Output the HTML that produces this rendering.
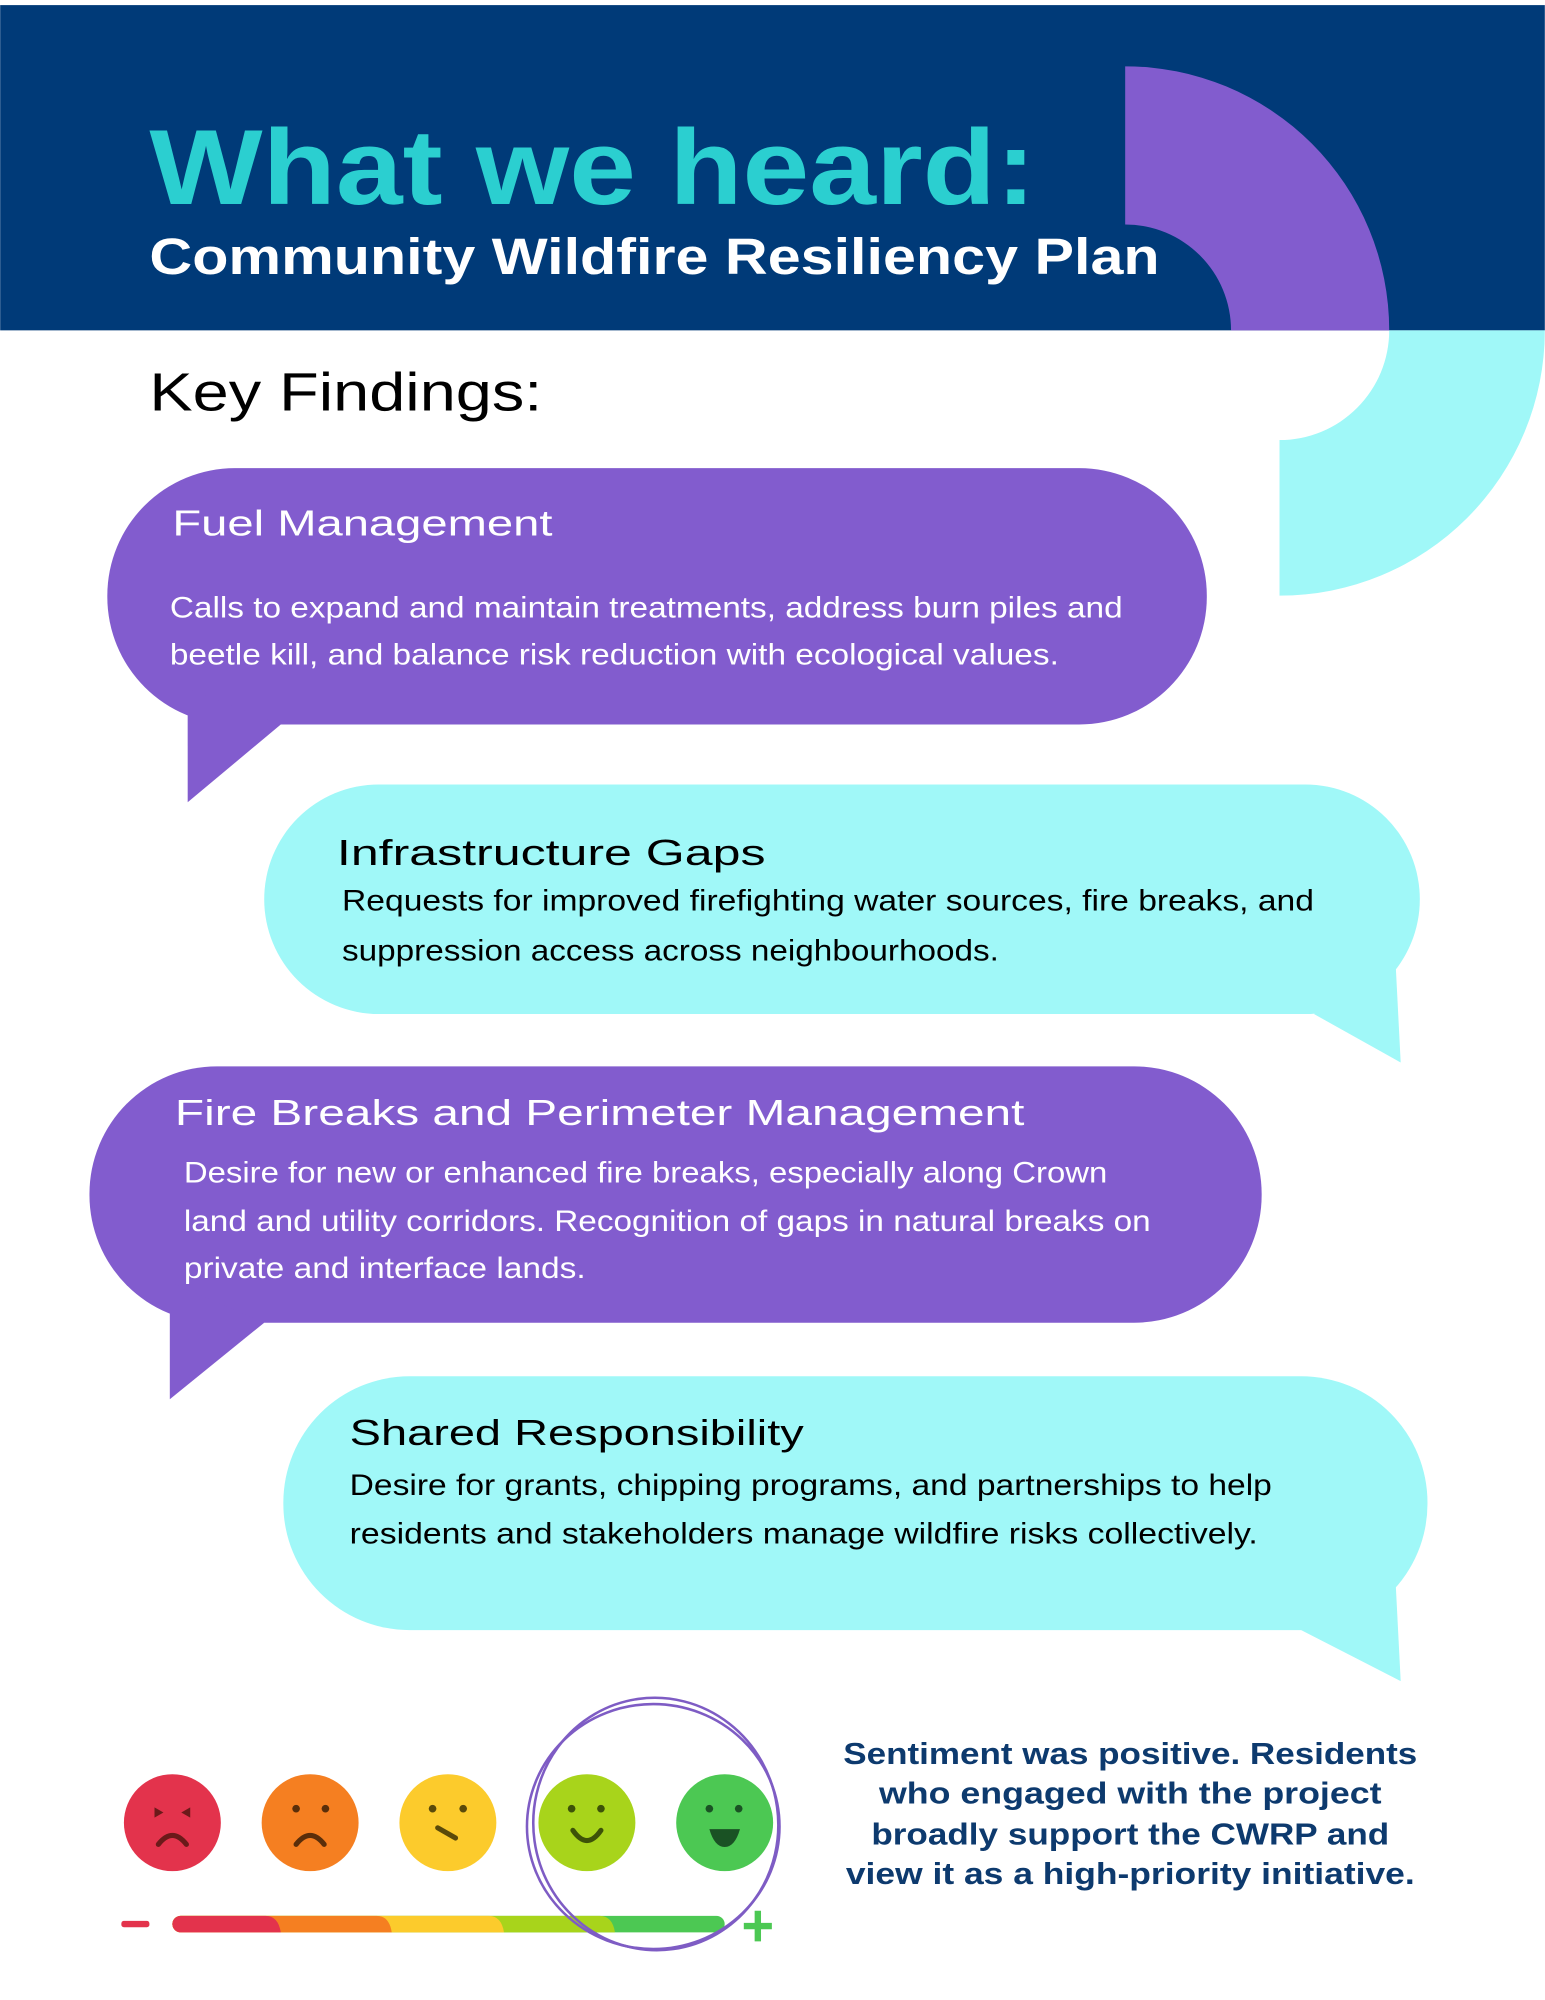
<!DOCTYPE html>
<html><head><meta charset="utf-8"><style>html,body{margin:0;padding:0;background:#fff}svg{display:block}</style></head>
<body>
<svg width="1545" height="2000" viewBox="0 0 1211 1568" xmlns="http://www.w3.org/2000/svg" font-family="Liberation Sans, sans-serif">
<rect width="1211" height="1568" fill="#fff"/>
<rect x="0" y="4" width="1211" height="255" fill="#003a78"/>
<!-- purple quarter annulus -->
<path d="M882 52 A207 207 0 0 1 1089 259 L965 259 A83 83 0 0 0 882 176 Z" fill="#825cce"/>
<!-- cyan quarter annulus -->
<path d="M1211 259 A208 208 0 0 1 1003 467 L1003 345 A86 86 0 0 0 1089 259 Z" fill="#a0f8f8"/>
<text x="117" y="160" font-size="84" font-weight="bold" fill="#2bcfd0" textLength="695" lengthAdjust="spacingAndGlyphs">What we heard:</text>
<text x="117" y="215" font-size="40" font-weight="bold" fill="#fff" textLength="792" lengthAdjust="spacingAndGlyphs">Community Wildfire Resiliency Plan</text>
<text x="117" y="322" font-size="42" fill="#000" textLength="308" lengthAdjust="spacingAndGlyphs">Key Findings:</text>

<!-- bubble 1 -->
<rect x="84" y="367" width="862" height="201" rx="100" fill="#825cce"/>
<polygon points="147,540 147,629 220,568" fill="#825cce"/>
<text x="135" y="420" font-size="28" fill="#fff" textLength="298" lengthAdjust="spacingAndGlyphs">Fuel Management</text>
<g font-size="23" fill="#fff" lengthAdjust="spacingAndGlyphs">
<text x="133" y="484" textLength="747" lengthAdjust="spacingAndGlyphs">Calls to expand and maintain treatments, address burn piles and</text>
<text x="133" y="521" textLength="697" lengthAdjust="spacingAndGlyphs">beetle kill, and balance risk reduction with ecological values.</text>
</g>

<!-- bubble 2 -->
<rect x="207" y="615" width="906" height="180" rx="90" fill="#a0f8f8"/>
<polygon points="1030,795 1098,833 1094,755 1060,780" fill="#a0f8f8"/>
<text x="264" y="678" font-size="28" fill="#000" textLength="336" lengthAdjust="spacingAndGlyphs">Infrastructure Gaps</text>
<text x="268" y="714" font-size="23" fill="#000" textLength="762" lengthAdjust="spacingAndGlyphs">Requests for improved firefighting water sources, fire breaks, and</text>
<text x="268" y="753" font-size="23" fill="#000" textLength="515" lengthAdjust="spacingAndGlyphs">suppression access across neighbourhoods.</text>

<!-- bubble 3 -->
<rect x="70" y="836" width="919" height="201" rx="100" fill="#825cce"/>
<polygon points="133,1005 133,1097 207,1037" fill="#825cce"/>
<text x="137" y="882" font-size="28" fill="#fff" textLength="666" lengthAdjust="spacingAndGlyphs">Fire Breaks and Perimeter Management</text>
<text x="144" y="927" font-size="23" fill="#fff" textLength="724" lengthAdjust="spacingAndGlyphs">Desire for new or enhanced fire breaks, especially along Crown</text>
<text x="144" y="965" font-size="23" fill="#fff" textLength="758" lengthAdjust="spacingAndGlyphs">land and utility corridors. Recognition of gaps in natural breaks on</text>
<text x="144" y="1002" font-size="23" fill="#fff" textLength="315" lengthAdjust="spacingAndGlyphs">private and interface lands.</text>

<!-- bubble 4 -->
<rect x="222" y="1079" width="897" height="199" rx="99" fill="#a0f8f8"/>
<polygon points="1020,1278 1098,1318 1094,1240 1060,1265" fill="#a0f8f8"/>
<text x="274" y="1133" font-size="28" fill="#000" textLength="356" lengthAdjust="spacingAndGlyphs">Shared Responsibility</text>
<text x="274" y="1172" font-size="23" fill="#000" textLength="723" lengthAdjust="spacingAndGlyphs">Desire for grants, chipping programs, and partnerships to help</text>
<text x="274" y="1210" font-size="23" fill="#000" textLength="712" lengthAdjust="spacingAndGlyphs">residents and stakeholders manage wildfire risks collectively.</text>

<!-- faces -->
<circle cx="135" cy="1429" r="38" fill="#e3334c"/>
<circle cx="243" cy="1429" r="38" fill="#f57f21"/>
<circle cx="351" cy="1429" r="38" fill="#fccb2c"/>
<circle cx="460" cy="1429" r="38" fill="#a8d41b"/>
<circle cx="568" cy="1429" r="38" fill="#4cc853"/>
<g fill="#6b1a1a"><path d="M121 1417 l7 4 l-7 4z"/><path d="M149 1417 l-7 4 l7 4z"/></g>
<path d="M124 1446 q11 -14 22 0" stroke="#6b1a1a" stroke-width="4" fill="none" stroke-linecap="round"/>
<g fill="#5a2e0a"><circle cx="232" cy="1418" r="3"/><circle cx="255" cy="1418" r="3"/></g>
<path d="M232 1446 q11 -14 22 0" stroke="#5a2e0a" stroke-width="4" fill="none" stroke-linecap="round"/>
<g fill="#5a4a0a"><circle cx="339" cy="1418" r="3"/><circle cx="363" cy="1418" r="3"/></g>
<path d="M343 1433 l14 8" stroke="#5a4a0a" stroke-width="4" stroke-linecap="round"/>
<g fill="#3d5208"><circle cx="448" cy="1418" r="3"/><circle cx="471" cy="1418" r="3"/></g>
<path d="M449 1435 q11 16 22 0" stroke="#3d5208" stroke-width="4" fill="none" stroke-linecap="round"/>
<g fill="#1a5224"><circle cx="556" cy="1418" r="3"/><circle cx="579" cy="1418" r="3"/></g>
<path d="M556 1434 h24 q-4 14 -12 14 q-8 0 -12 -14z" fill="#1a5224"/>

<!-- bar -->
<rect x="95" y="1506" width="22" height="5" rx="2" fill="#e3334c"/>
<rect x="135" y="1502" width="433" height="13" rx="6.5" fill="#4cc853"/>
<path d="M141.5 1502 H470 q10 0 12 13 H141.5 a6.5 6.5 0 0 1 0 -13z" fill="#a8d41b"/>
<path d="M141.5 1502 H383 q10 0 12 13 H141.5 a6.5 6.5 0 0 1 0 -13z" fill="#fccb2c"/>
<path d="M141.5 1502 H295 q10 0 12 13 H141.5 a6.5 6.5 0 0 1 0 -13z" fill="#f57f21"/>
<path d="M141.5 1502 H208 q10 0 12 13 H141.5 a6.5 6.5 0 0 1 0 -13z" fill="#e3334c"/>
<path d="M594 1498 v24 M583 1510 h22" stroke="#4cc853" stroke-width="5"/>

<!-- hand-drawn ellipse -->
<g fill="none" stroke="#7e5cc4" stroke-width="2">
<ellipse cx="512" cy="1432" rx="99" ry="96"/>
<ellipse cx="514" cy="1430" rx="96" ry="99" transform="rotate(-8 514 1430)"/>
</g>

<g font-size="24" font-weight="bold" fill="#0d3a6e" text-anchor="middle">
<text x="886" y="1383" textLength="450" lengthAdjust="spacingAndGlyphs">Sentiment was positive. Residents</text>
<text x="886" y="1414" textLength="394" lengthAdjust="spacingAndGlyphs">who engaged with the project</text>
<text x="886" y="1446" textLength="406" lengthAdjust="spacingAndGlyphs">broadly support the CWRP and</text>
<text x="886" y="1477" textLength="446" lengthAdjust="spacingAndGlyphs">view it as a high-priority initiative.</text>
</g>
</svg>
</body></html>
